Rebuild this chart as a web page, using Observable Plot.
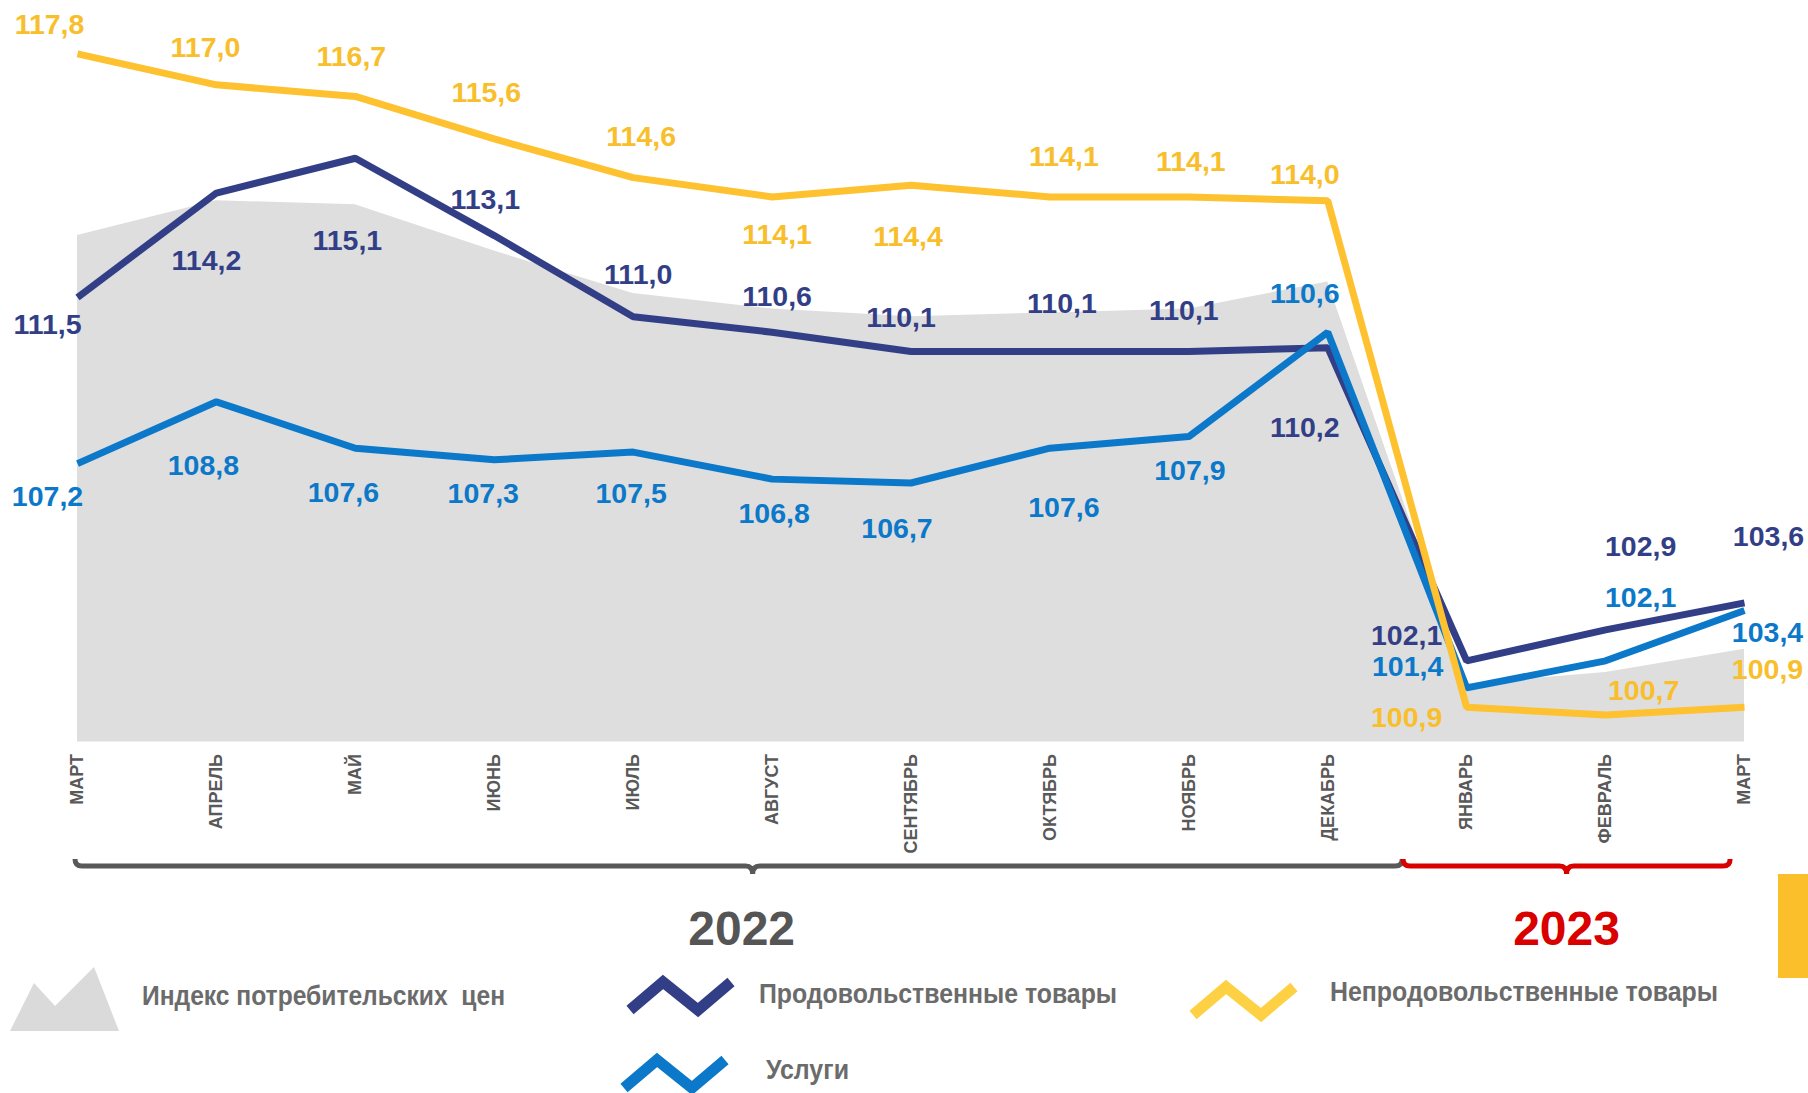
<!DOCTYPE html>
<html><head><meta charset="utf-8">
<script src="https://cdn.jsdelivr.net/npm/d3@7"></script>
<script src="https://cdn.jsdelivr.net/npm/@observablehq/plot@0.6"></script>
<style>
html,body{margin:0;padding:0;background:#fff;overflow:hidden;width:1808px;height:1093px}
#wrap{position:relative;width:1808px;height:1093px}
#chart svg{display:block}
#overlay{position:absolute;left:0;top:0}
</style></head><body><div id="wrap"><div id="chart"></div></div><script>
// ---- data ----
const months = ["МАРТ","АПРЕЛЬ","МАЙ","ИЮНЬ","ИЮЛЬ","АВГУСТ","СЕНТЯБРЬ","ОКТЯБРЬ","НОЯБРЬ","ДЕКАБРЬ","ЯНВАРЬ","ФЕВРАЛЬ","МАРТ"];
const cpi      = [113.1,114.0,113.9,112.7,111.6,111.2,111.0,111.1,111.2,111.9,101.5,101.8,102.4];
const food     = [111.5,114.2,115.1,113.1,111.0,110.6,110.1,110.1,110.1,110.2,102.1,102.9,103.6];
const nonfood  = [117.8,117.0,116.7,115.6,114.6,114.1,114.4,114.1,114.1,114.0,100.9,100.7,100.9];
const services = [107.2,108.8,107.6,107.3,107.5,106.8,106.7,107.6,107.9,110.6,101.4,102.1,103.4];
const seriesNames = {
  cpi: "Индекс потребительских  цен",
  food: "Продовольственные товары",
  nonfood: "Непродовольственные товары",
  services: "Услуги"
};
const yearLabels = ["2022", "2023"];
const yearSpans = [[0, 9.54], [9.56, 11.9]]; // in month-index units

// ---- styling / layout ----
const colors = {cpi: "#dedede", food: "#323f87", nonfood: "#fec12f", services: "#0b78c9"};
const labelColors = {food: "#323f87", nonfood: "#f9be2b", services: "#0b78c9"};
// label nudges (px) relative to each point
const labelOffsets = {
  nonfood:  [[-28,-29],[-11,-37],[-4,-40],[-8,-46],[8,-41],[5,38],[-3,52],[14,-40],[2,-35],[-23,-26],[-60,11],[38,-24],[23,-37]],
  food:     [[-30,27],[-10,68],[-8,83],[-9,-36],[5,-42],[5,-35],[-10,-34],[12,-48],[-5,-41],[-23,80],[-60,-25],[35,-83],[24,-66]],
  services: [[-30,33],[-13,64],[-12,45],[-11,34],[-2,42],[2,35],[-14,46],[14,60],[1,34],[-23,-38],[-59,-21],[35,-63],[23,22]]
};
const FONT = "'Liberation Sans', Arial, sans-serif";

const data = {food, nonfood, services};
const idx = d3.range(months.length);
const rows = arr => idx.map(i => ({i, v: arr[i]}));
const fmt = v => v.toFixed(1).replace(".", ",");

const labels = [];
for (const k of ["food", "services", "nonfood"]) {
  data[k].forEach((v, i) => {
    const [dx, dy] = labelOffsets[k][i];
    labels.push(Plot.text([{i, v}], {
      x: "i", y: "v", text: d => fmt(d.v), dx, dy,
      fill: labelColors[k], fontSize: 28.5, fontWeight: "bold", textAnchor: "middle"
    }));
  });
}

const plot = Plot.plot({
  width: 1808, height: 860,
  marginLeft: 77, marginRight: 64, marginTop: 7, marginBottom: 118.5,
  x: {type: "linear", domain: [0, months.length - 1]},
  y: {domain: [100, 119], axis: null},
  style: {fontFamily: FONT, background: "#fff", overflow: "visible"},
  marks: [
    Plot.areaY(rows(cpi), {x: "i", y1: 100, y2: "v", fill: colors.cpi}),
    Plot.axisX({ticks: idx, tickFormat: i => months[i], tickRotate: -90, tickSize: 0, tickPadding: 12,
      fontSize: 18, fontWeight: "bold", color: "#595959", label: null}),
    Plot.line(rows(food), {x: "i", y: "v", stroke: colors.food, strokeWidth: 7, strokeLinejoin: "miter", strokeLinecap: "butt"}),
    Plot.line(rows(services), {x: "i", y: "v", stroke: colors.services, strokeWidth: 7, strokeLinejoin: "miter", strokeLinecap: "butt"}),
    Plot.line(rows(nonfood), {x: "i", y: "v", stroke: colors.nonfood, strokeWidth: 7, strokeLinejoin: "miter", strokeLinecap: "butt"}),
    ...labels
  ]
});
document.getElementById("chart").appendChild(plot);

// ---- annotations & legend (below the chart) ----
const xs = plot.scale("x");
const svg = d3.select("#wrap").append("svg")
  .attr("id", "overlay").attr("width", 1808).attr("height", 1093)
  .style("font-family", FONT);

function brace(x0, x1, xm, Y, color) {
  const t = 7, r = 7, c = 8;
  const p = `M${x0},${Y - t} Q${x0},${Y} ${x0 + r},${Y} L${xm - r},${Y} Q${xm},${Y} ${xm},${Y + c} Q${xm},${Y} ${xm + r},${Y} L${x1 - r},${Y} Q${x1},${Y} ${x1},${Y - t}`;
  svg.append("path").attr("d", p).attr("fill", "none").attr("stroke", color).attr("stroke-width", 5);
}
const yearColors = ["#595959", "#d90000"];
const yearTextColors = ["#555555", "#d90000"];
const cuspShift = [14, 0], textShift = [3, 0];
yearSpans.forEach(([a, b], j) => {
  const x0 = xs.apply(a) - 2, x1 = xs.apply(b);
  const mid = (x0 + x1) / 2;
  brace(x0, x1, mid + cuspShift[j], 866, yearColors[j]);
  svg.append("text").attr("x", mid + textShift[j]).attr("y", 945).attr("text-anchor", "middle")
    .attr("font-size", 48).attr("font-weight", "bold").attr("fill", yearTextColors[j])
    .text(yearLabels[j]);
});

// yellow tab at the right edge
svg.append("rect").attr("x", 1778).attr("y", 874).attr("width", 30).attr("height", 104).attr("fill", "#fbbf2c");

// legend
svg.append("path").attr("d", "M10,1031 L34,983 L55,1006 L94,967 L119,1031 Z").attr("fill", "#dadada");
function zig(x, y, color) {
  const pts = [[x, y + 28], [x + 33, y], [x + 68, y + 28], [x + 101, y]];
  svg.append("polyline").attr("points", pts.map(p => p.join(",")).join(" "))
    .attr("fill", "none").attr("stroke", color).attr("stroke-width", 11)
    .attr("stroke-linejoin", "miter").attr("stroke-linecap", "butt");
}
zig(630, 982, colors.food);
zig(1193, 987, "#fed144");
zig(624, 1060, colors.services);

const legendText = [
  [142, 1005, seriesNames.cpi, 363],
  [759, 1003, seriesNames.food, 358],
  [1330, 1001, seriesNames.nonfood, 388],
  [766, 1079, seriesNames.services, 83]
];
legendText.forEach(([x, y, t, w]) => {
  svg.append("text").attr("x", x).attr("y", y).attr("font-size", 28).attr("font-weight", "bold")
    .attr("fill", "#6b6b6b").attr("textLength", w).attr("lengthAdjust", "spacingAndGlyphs")
    .style("white-space", "pre").text(t);
});
</script></body></html>
